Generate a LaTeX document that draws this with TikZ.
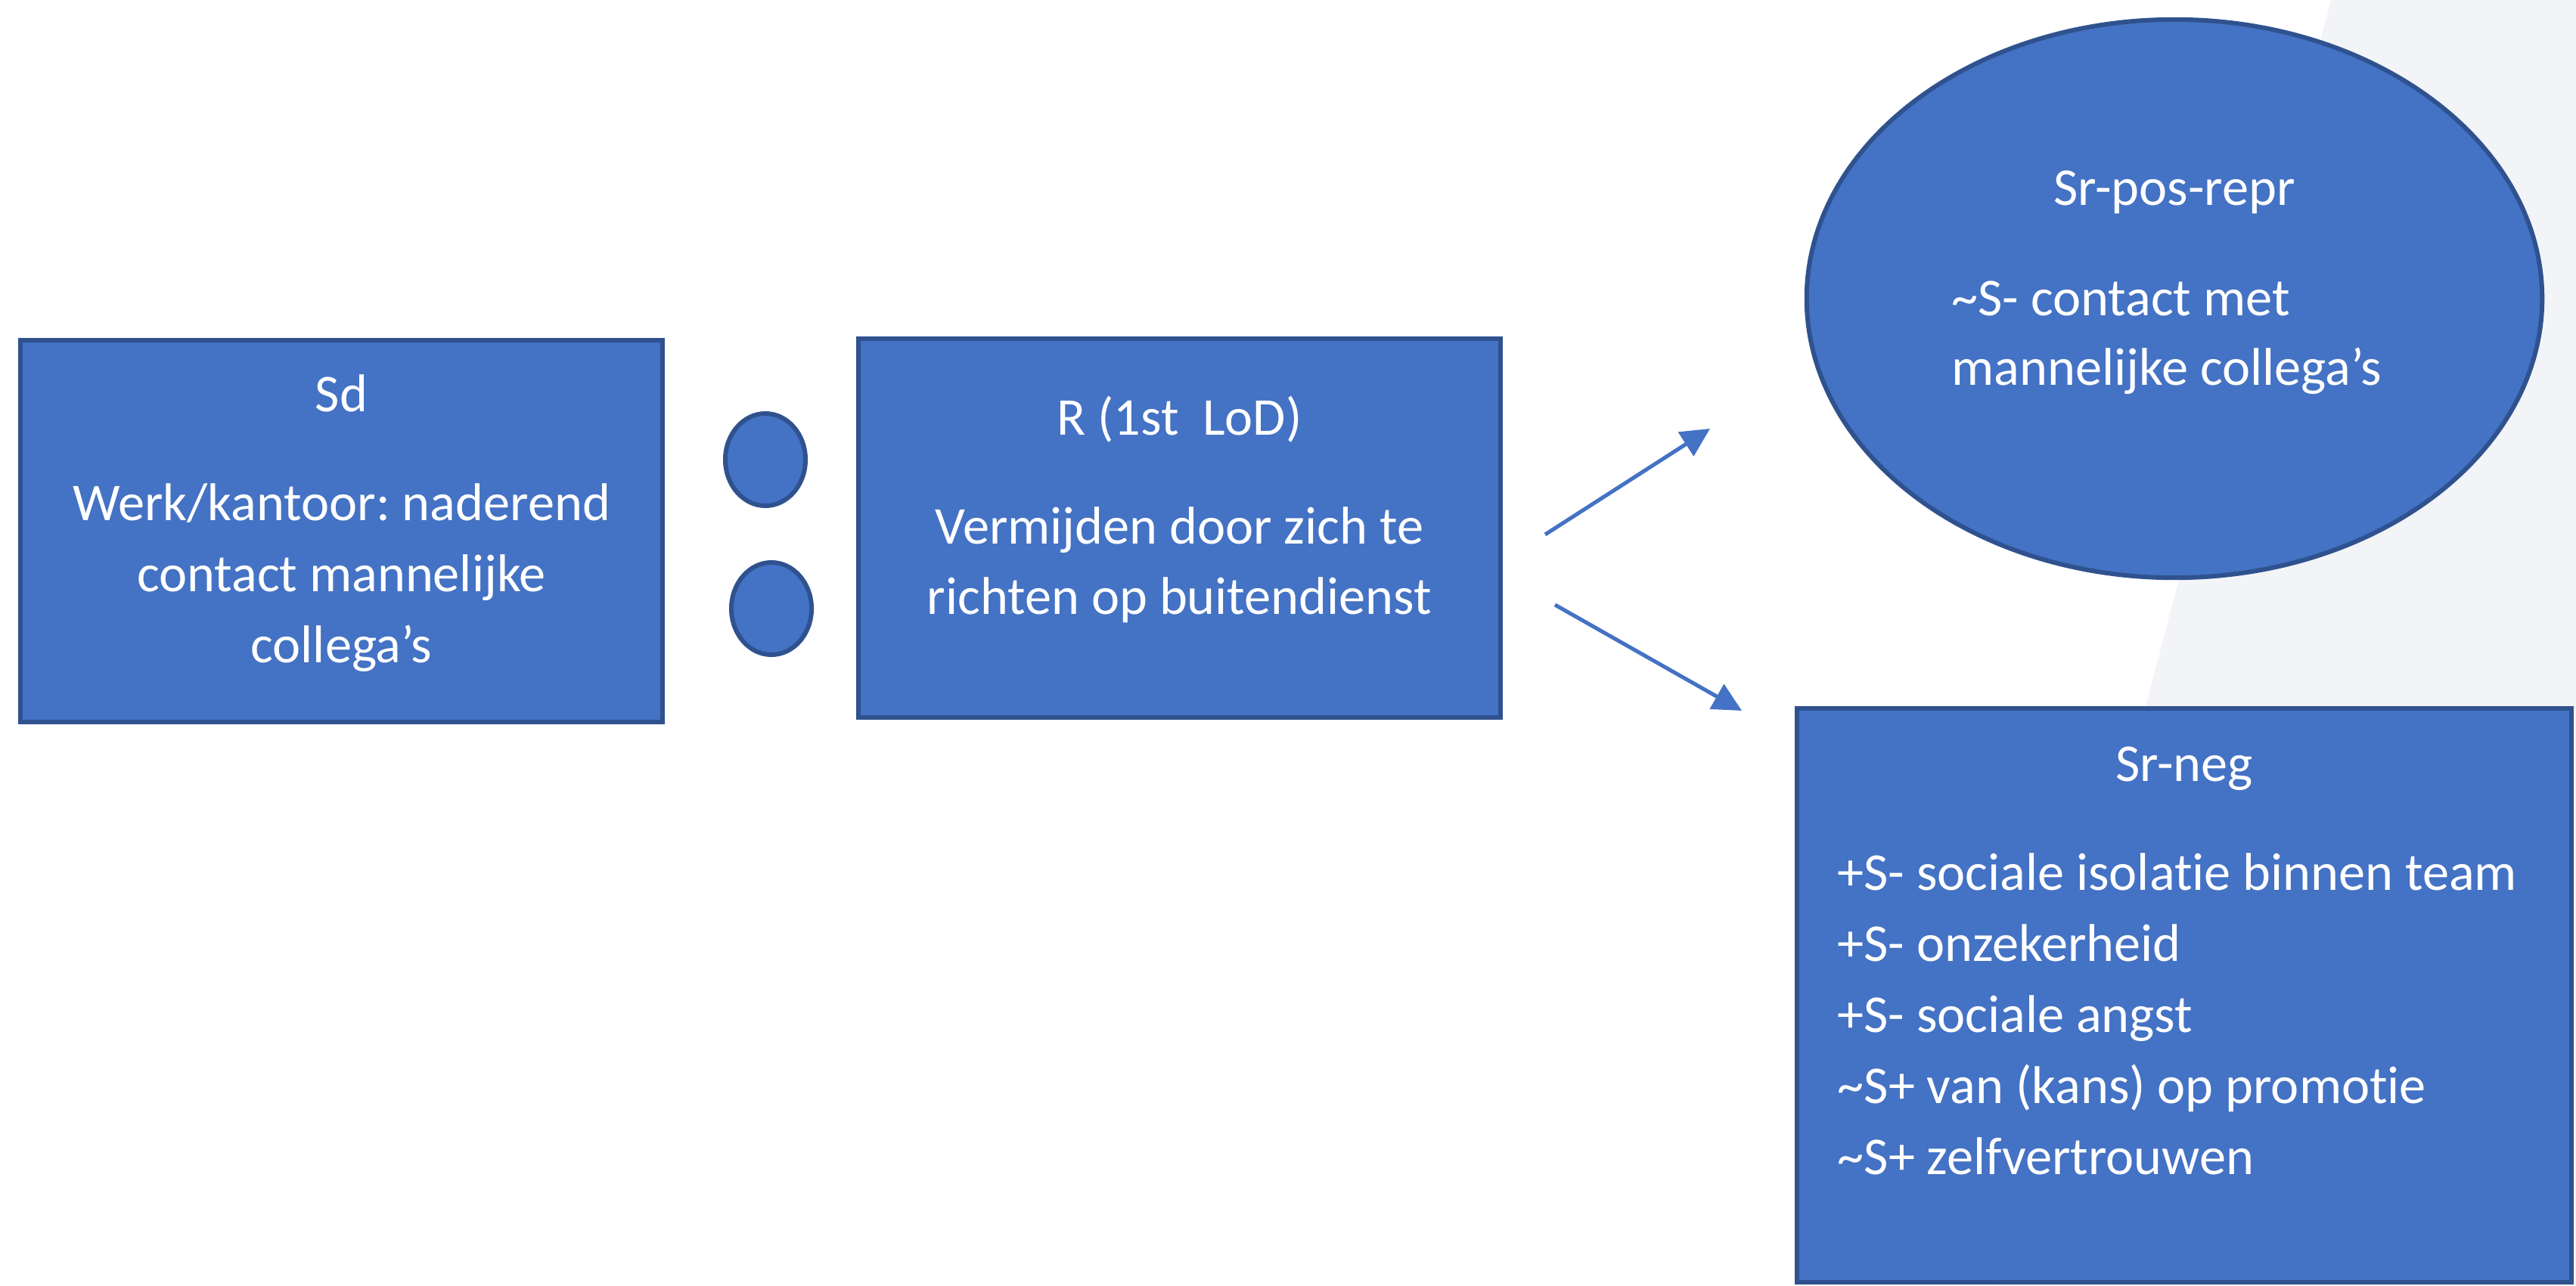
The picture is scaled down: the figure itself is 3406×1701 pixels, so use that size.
\documentclass[tikz,border=0pt]{standalone}
\usepackage{fontspec}
\setmainfont{Carlito}[Ligatures=NoCommon]
\frenchspacing
\usetikzlibrary{shapes.geometric,arrows.meta}

\definecolor{boxfill}{HTML}{4472C4}
\definecolor{boxline}{HTML}{2F528F}
\definecolor{panel}{HTML}{F3F4F7}

\tikzset{
  box/.style={draw=boxline, fill=boxfill, line width=1.7pt, inner sep=0pt},
  rectbox/.style={box, rectangle},
  ovalbox/.style={box, ellipse},
  lbl/.style={text=white, font=\fontsize{20}{26.7}\selectfont, inner sep=0pt, anchor=base},
  lblw/.style={lbl, anchor=base west},
  flow/.style={draw=boxfill, line width=1.45pt, -{Triangle[length=0.38cm, width=0.37cm]}}
}

\begin{document}
\begin{tikzpicture}[x=0.01cm, y=-0.01cm]
  % canvas
  \fill[white] (0,0) rectangle (3406,1701);
  \useasboundingbox (0,0) rectangle (3406,1701);

  % light panel on the right
  \fill[panel] (3082,0) -- (3406,0) -- (3406,1701) -- (2636,1701) -- cycle;

  % stimulus box
  \node[rectbox, minimum width=8.49cm, minimum height=5.05cm] (sd) at (451.5,702.5) {};
  \node[lbl] (sdT) at (451.5,545) {Sd};
  \node[lbl] (sd1) at (451.5,689) {Werk/kantoor: naderend};
  \node[lbl] (sd2) at (451.5,783) {contact mannelijke};
  \node[lbl] (sd3) at (451.5,877) {collega’s};

  % colon between Sd and R
  \node[ovalbox, minimum width=1.06cm, minimum height=1.22cm] (dotA) at (1012,608) {};
  \node[ovalbox, minimum width=1.06cm, minimum height=1.22cm] (dotB) at (1020,805) {};

  % response box
  \node[rectbox, minimum width=8.49cm, minimum height=5.01cm] (r) at (1559.5,698.5) {};
  \node[lbl] (rT) at (1559.5,576) {R (1st~~LoD)};
  \node[lbl] (r1) at (1559.5,720) {Vermijden door zich te};
  \node[lbl] (r2) at (1559.5,813) {richten op buitendienst};

  % positive reinforcement ellipse
  \node[ovalbox, minimum width=9.72cm, minimum height=7.38cm] (pos) at (2875,395) {};
  \node[lbl] (posT) at (2875,272) {Sr-pos-repr};
  \node[lblw] (pos1) at (2580,418) {\textasciitilde S- contact met};
  \node[lblw] (pos2) at (2580,510) {mannelijke collega’s};

  % negative consequences box
  \node[rectbox, minimum width=10.24cm, minimum height=7.59cm] (neg) at (2888,1316.5) {};
  \node[lbl] (negT) at (2888,1033) {Sr-neg};
  \node[lblw] (neg1) at (2429,1177) {+S- sociale isolatie binnen team};
  \node[lblw] (neg2) at (2429,1271) {+S- onzekerheid};
  \node[lblw] (neg3) at (2429,1365) {+S- sociale angst};
  \node[lblw] (neg4) at (2429,1459) {\textasciitilde S+ van (kans) op promotie};
  \node[lblw] (neg5) at (2429,1553) {\textasciitilde S+ zelfvertrouwen};

  % arrows from the response to its consequences
  \coordinate (upS) at (2043,707);
  \coordinate (upE) at (2261,567);
  \coordinate (dnS) at (2056,800);
  \coordinate (dnE) at (2303,940);
  \draw[flow] (upS) -- (upE);
  \draw[flow] (dnS) -- (dnE);
\end{tikzpicture}
\end{document}
